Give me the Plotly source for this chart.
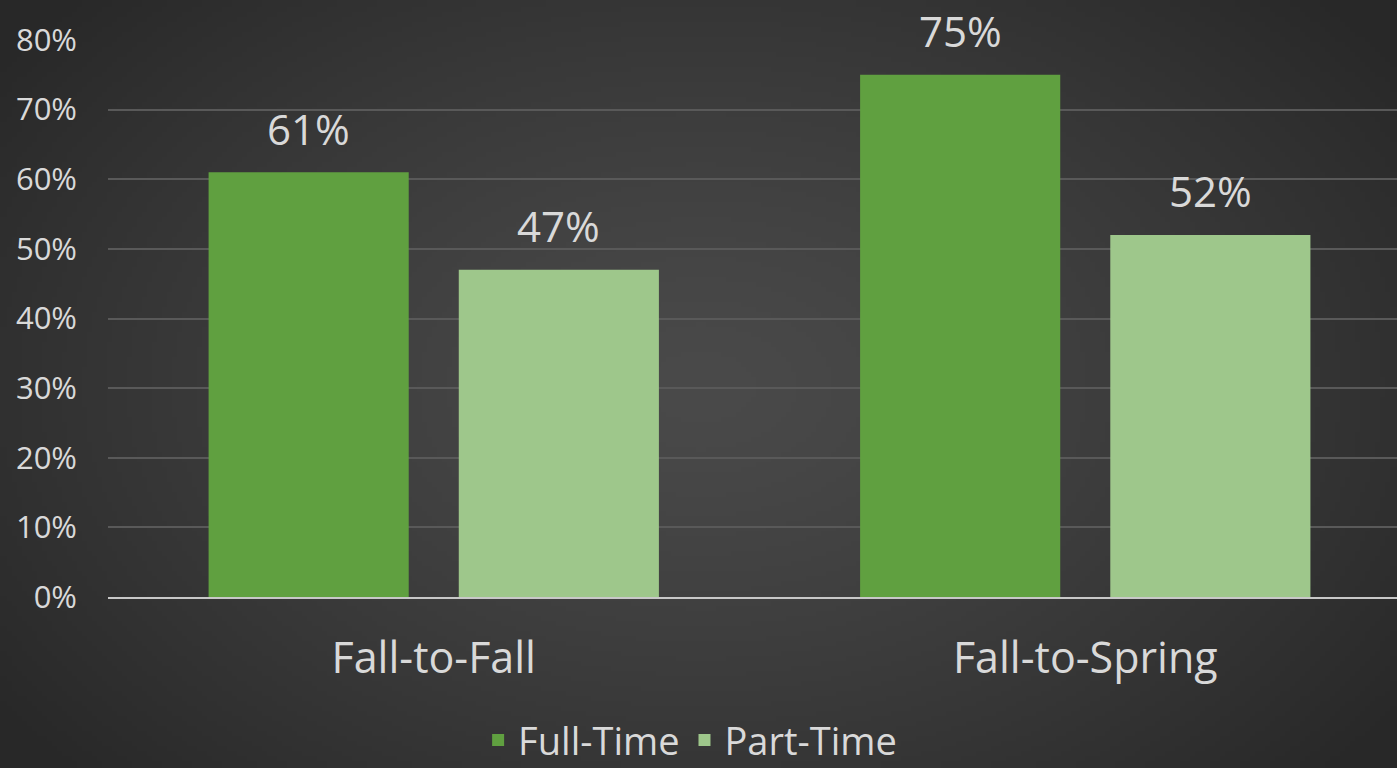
import base64, struct, zlib
import numpy as np
import plotly.graph_objects as go

categories = ["Fall-to-Fall", "Fall-to-Spring"]
full_time = [61, 75]
part_time = [47, 52]
series_names = ["Full-Time", "Part-Time"]
y_ticks = [0, 10, 20, 30, 40, 50, 60, 70, 80]
y_tick_labels = [f"{v}%" for v in y_ticks]

W, H = 1397, 768
ML, MR, MT, MB = 108, 0, 40, 171
PW, PH = W - ML - MR, H - MT - MB

# radial gradient background image
iw, ih = 280, 154
yy, xx = np.mgrid[0:ih, 0:iw]
cx, cy = iw * 0.5, ih * 0.5
d = np.sqrt(((xx - cx) / (iw * 0.62)) ** 2 + ((yy - cy) / (ih * 0.75)) ** 2)
d = np.clip(d, 0, 1)
inner, outer = 74, 40
val = (inner + (outer - inner) * d ** 1.3).astype(np.uint8)
rgb = np.stack([val, val, val], axis=-1)
raw = b"".join(b"\x00" + rgb[r].tobytes() for r in range(ih))

def chunk(tag, data):
    c = struct.pack(">I", len(data)) + tag + data
    return c + struct.pack(">I", zlib.crc32(tag + data) & 0xFFFFFFFF)

png = b"\x89PNG\r\n\x1a\n" + chunk(b"IHDR", struct.pack(">IIBBBBB", iw, ih, 8, 2, 0, 0, 0)) \
    + chunk(b"IDAT", zlib.compress(raw, 9)) + chunk(b"IEND", b"")
bg_uri = "data:image/png;base64," + base64.b64encode(png).decode()

font = "Open Sans"
txt = "#d9d9d9"
BARGAP, GROUPGAP = 0.232, 0.2

fig = go.Figure()
fig.add_trace(go.Bar(name=series_names[0], x=categories, y=full_time,
                     marker=dict(color="#60a040", line=dict(width=0))))
fig.add_trace(go.Bar(name=series_names[1], x=categories, y=part_time,
                     marker=dict(color="#9ec78b", line=dict(width=0))))

cat_px = 651
slot = cat_px * (1 - BARGAP) / 2
for vals, sgn in ((full_time, -1), (part_time, 1)):
    for c, v in zip(categories, vals):
        fig.add_annotation(x=c, y=v, text=f"{v}%", showarrow=False,
                           xshift=sgn * slot / 2, yshift=44, yanchor="middle",
                           font=dict(family=font, size=42, color=txt))

fig.add_layout_image(dict(source=bg_uri, xref="paper", yref="paper",
                          x=-ML / PW, y=1 + MT / PH, sizex=W / PW, sizey=H / PH,
                          xanchor="left", yanchor="top", sizing="stretch",
                          layer="below"))

fig.update_layout(
    width=W, height=H,
    margin=dict(l=ML, r=MR, t=MT, b=MB, autoexpand=False),
    paper_bgcolor="#3a3a3a", plot_bgcolor="rgba(0,0,0,0)",
    barmode="group", bargap=BARGAP, bargroupgap=GROUPGAP,
    font=dict(family=font, color=txt),
    showlegend=True,
    legend=dict(orientation="h", xref="container", yref="container",
                x=0.494, xanchor="center", y=0.036, yanchor="middle",
                font=dict(family=font, size=38, color=txt),
                bgcolor="rgba(0,0,0,0)", itemwidth=30),
    xaxis=dict(range=[-0.5, 1.5 - 14 / cat_px], showgrid=False,
               showline=True, linecolor="#c8c8c8", linewidth=2,
               ticks="", ticklabelstandoff=22,
               tickfont=dict(family=font, size=43, color=txt), fixedrange=True),
    yaxis=dict(range=[0, 80], tickvals=y_ticks, ticktext=y_tick_labels,
               showgrid=True, gridcolor="#595959", gridwidth=2,
               zeroline=False, showline=False, ticks="", ticklabelstandoff=30,
               tickfont=dict(family=font, size=31, color=txt), fixedrange=True),
)

fig.write_html("out.html", config={"displayModeBar": False},
               post_script="document.body.style.margin='0';document.body.style.background='#3a3a3a';")
